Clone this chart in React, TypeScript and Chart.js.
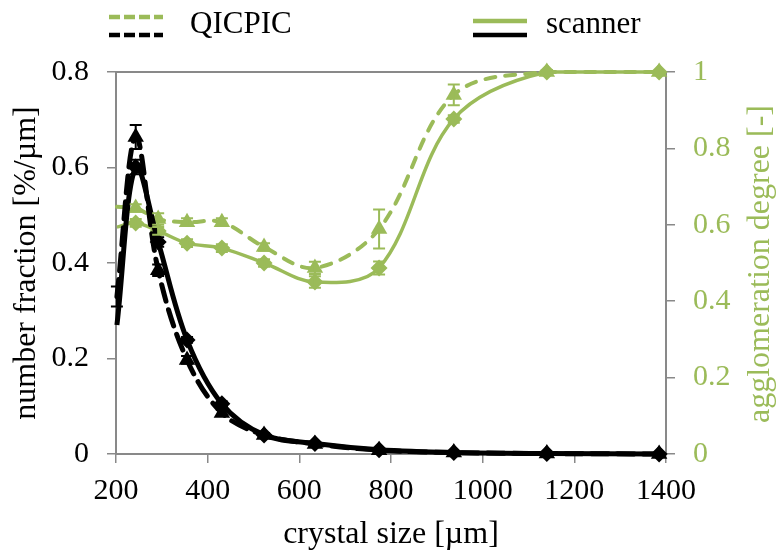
import React, { useEffect, useRef } from "react";
import { Chart, registerables } from "chart.js";

Chart.register(...registerables);

// crystal size [µm]
const crystalSize = [202, 243, 292, 355, 431, 523, 634, 774, 937, 1140, 1385];
// number fraction [%/µm]
const qicpicNumber = [0.33, 0.664, 0.385, 0.197, 0.086, 0.04, 0.021, 0.008, 0.003, 0.001, 0.0];
const scannerNumber = [0.27, 0.601, 0.444, 0.239, 0.105, 0.04, 0.022, 0.009, 0.003, 0.001, 0.0];
const qicpicNumberErr = [0.021, 0.025, 0.012, 0.008, 0.006, 0.004, 0.003, 0.002, 0.001, 0, 0];
const scannerNumberErr = [0, 0.015, 0.01, 0.006, 0.005, 0.003, 0.002, 0.001, 0, 0, 0];
// agglomeration degree [-]
const qicpicAgglo = [0.647, 0.644, 0.615, 0.607, 0.607, 0.542, 0.487, 0.589, 0.94, 1.0, 1.0];
const scannerAgglo = [0.594, 0.605, 0.584, 0.552, 0.539, 0.5, 0.45, 0.487, 0.877, 1.0, 1.0];
const qicpicAggloErr = [0, 0.01, 0.015, 0.01, 0.01, 0.01, 0.016, 0.051, 0.027, 0.005, 0];
const scannerAggloErr = [0, 0.01, 0.01, 0.01, 0.01, 0.01, 0.015, 0.017, 0.01, 0, 0];

const legendLabels = ["QICPIC", "scanner"];
const xTitle = "crystal size [µm]";
const yLeftTitle = "number fraction [%/µm]";
const yRightTitle = "agglomeration degree [-]";

const GREEN = "#9bbb59";
const BLACK = "#000000";
const AXIS = "#898989";
const FONT = "'Liberation Serif', 'Times New Roman', serif";

const pts = (ys: number[]) => ys.map((y, i) => ({ x: crystalSize[i], y }));
const radii = (r: number) => crystalSize.map((_, i) => (i === 0 ? 0 : r));
const fmt = (v: any) => String(Math.round(Number(v) * 100) / 100);

export default function App() {
  const ref = useRef<HTMLCanvasElement>(null);

  useEffect(() => {
    const canvas = ref.current;
    if (!canvas) return;

    const frame = {
      id: "frame",
      beforeDatasetsDraw(chart: any) {
        const { ctx, chartArea } = chart;
        ctx.save();
        ctx.strokeStyle = AXIS;
        ctx.lineWidth = 2;
        ctx.beginPath();
        ctx.moveTo(chartArea.left, chartArea.top);
        ctx.lineTo(chartArea.right, chartArea.top);
        ctx.stroke();
        ctx.restore();
      },
    };

    const errorBars = {
      id: "errorBars",
      afterDatasetsDraw(chart: any) {
        const ctx = chart.ctx;
        const order = [2, 3, 0, 1];
        order.forEach((i) => {
          const ds: any = chart.data.datasets[i];
          const errs: number[] = ds.errors;
          const ys = chart.scales[ds.yAxisID];
          const xs = chart.scales.x;
          ctx.save();
          ctx.strokeStyle = ds.borderColor;
          ctx.lineWidth = 2;
          ctx.setLineDash([]);
          ds.data.forEach((p: any, j: number) => {
            const e = errs[j];
            if (!e) return;
            const px = xs.getPixelForValue(p.x);
            const y1 = ys.getPixelForValue(p.y + e);
            const y2 = ys.getPixelForValue(p.y - e);
            ctx.beginPath();
            ctx.moveTo(px, y1);
            ctx.lineTo(px, y2);
            ctx.moveTo(px - 6, y1);
            ctx.lineTo(px + 6, y1);
            ctx.moveTo(px - 6, y2);
            ctx.lineTo(px + 6, y2);
            ctx.stroke();
          });
          ctx.restore();
        });
      },
    };

    const legendAndTitle = {
      id: "legendAndTitle",
      afterDraw(chart: any) {
        const ctx = chart.ctx;
        ctx.save();
        ctx.lineCap = "butt";
        // QICPIC sample (dashed)
        ctx.setLineDash([11, 4]);
        ctx.lineWidth = 4.5;
        ctx.strokeStyle = GREEN;
        ctx.beginPath();
        ctx.moveTo(109, 17);
        ctx.lineTo(163, 17);
        ctx.stroke();
        ctx.strokeStyle = BLACK;
        ctx.beginPath();
        ctx.moveTo(109, 35);
        ctx.lineTo(163, 35);
        ctx.stroke();
        // scanner sample (solid)
        ctx.setLineDash([]);
        ctx.strokeStyle = GREEN;
        ctx.beginPath();
        ctx.moveTo(473, 21);
        ctx.lineTo(527, 21);
        ctx.stroke();
        ctx.strokeStyle = BLACK;
        ctx.beginPath();
        ctx.moveTo(473, 35);
        ctx.lineTo(527, 35);
        ctx.stroke();
        ctx.fillStyle = BLACK;
        ctx.font = `31px ${FONT}`;
        ctx.textBaseline = "middle";
        ctx.textAlign = "left";
        ctx.fillText(legendLabels[0], 190, 25);
        ctx.fillText(legendLabels[1], 546, 25);
        // right axis title, reading bottom to top
        ctx.translate(761, 264);
        ctx.rotate(-Math.PI / 2);
        ctx.textAlign = "center";
        ctx.fillStyle = GREEN;
        ctx.font = `32px ${FONT}`;
        ctx.fillText(yRightTitle, 0, 0);
        ctx.restore();
      },
    };

    const chart = new Chart(canvas, {
      type: "line",
      data: {
        datasets: [
          {
            label: "QICPIC number",
            data: pts(qicpicNumber),
            errors: qicpicNumberErr,
            yAxisID: "y",
            borderColor: BLACK,
            backgroundColor: BLACK,
            borderWidth: 5,
            borderDash: [17, 9],
            borderCapStyle: "round",
            pointStyle: "triangle",
            pointRadius: radii(9.5),
            pointBorderWidth: 0,
            tension: 0.35,
            clip: false,
            order: 0,
          } as any,
          {
            label: "scanner number",
            data: pts(scannerNumber),
            errors: scannerNumberErr,
            yAxisID: "y",
            borderColor: BLACK,
            backgroundColor: BLACK,
            borderWidth: 5,
            pointStyle: "rectRot",
            pointRadius: radii(8.5),
            pointBorderWidth: 0,
            tension: 0.35,
            clip: false,
            order: 0,
          } as any,
          {
            label: "QICPIC agglomeration",
            data: pts(qicpicAgglo),
            errors: qicpicAggloErr,
            yAxisID: "y1",
            borderColor: GREEN,
            backgroundColor: GREEN,
            borderWidth: 4,
            borderDash: [10, 10],
            borderCapStyle: "round",
            pointStyle: "triangle",
            pointRadius: radii(9.5),
            pointBorderWidth: 0,
            tension: 0.35,
            clip: false,
            order: 1,
          } as any,
          {
            label: "scanner agglomeration",
            data: pts(scannerAgglo),
            errors: scannerAggloErr,
            yAxisID: "y1",
            borderColor: GREEN,
            backgroundColor: GREEN,
            borderWidth: 3.5,
            pointStyle: "rectRot",
            pointRadius: radii(8.5),
            pointBorderWidth: 0,
            tension: 0.35,
            clip: false,
            order: 1,
          } as any,
        ],
      },
      options: {
        animation: false,
        responsive: false,
        devicePixelRatio: 1,
        layout: { padding: { top: 72, left: 0, right: 0, bottom: 0 } },
        plugins: {
          legend: { display: false },
          tooltip: { enabled: false },
        },
        scales: {
          x: {
            type: "linear",
            min: 200,
            max: 1400,
            afterFit: (s: any) => {
              s.height = 100;
            },
            ticks: {
              stepSize: 200,
              color: BLACK,
              padding: 10,
              maxRotation: 0,
              callback: fmt,
              font: { family: FONT, size: 30 },
            },
            grid: {
              drawOnChartArea: false,
              drawTicks: true,
              tickLength: 9,
              color: AXIS,
              lineWidth: 1.5,
            },
            border: { color: AXIS, width: 2 },
            title: {
              display: true,
              text: xTitle,
              color: BLACK,
              font: { family: FONT, size: 32 },
              padding: { top: 0, bottom: 0 },
            },
          },
          y: {
            type: "linear",
            position: "left",
            min: 0,
            max: 0.8,
            afterFit: (s: any) => {
              s.width = 116;
            },
            ticks: {
              stepSize: 0.2,
              color: BLACK,
              padding: 18,
              callback: fmt,
              font: { family: FONT, size: 30 },
            },
            grid: {
              drawOnChartArea: false,
              tickLength: 9,
              color: AXIS,
              lineWidth: 1.5,
            },
            border: { color: AXIS, width: 2 },
            title: {
              display: true,
              text: yLeftTitle,
              color: BLACK,
              font: { family: FONT, size: 32 },
              padding: { top: 7, bottom: 0 },
            },
          },
          y1: {
            type: "linear",
            position: "right",
            min: 0,
            max: 1,
            afterFit: (s: any) => {
              s.width = 111;
            },
            ticks: {
              stepSize: 0.2,
              color: GREEN,
              padding: 18,
              callback: fmt,
              font: { family: FONT, size: 30 },
            },
            grid: {
              drawOnChartArea: false,
              tickLength: 9,
              color: AXIS,
              lineWidth: 1.5,
            },
            border: { color: AXIS, width: 2 },
          },
        },
      } as any,
      plugins: [frame, errorBars, legendAndTitle],
    });

    return () => chart.destroy();
  }, []);

  return (
    <div style={{ position: "fixed", left: 0, top: 0, width: 777, height: 554, background: "#fff" }}>
      <canvas ref={ref} width={777} height={554} style={{ display: "block", width: 777, height: 554 }} />
    </div>
  );
}
